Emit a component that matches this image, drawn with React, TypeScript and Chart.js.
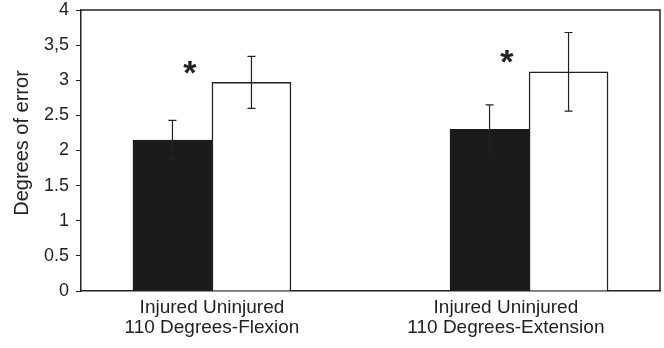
import React, { useEffect, useRef } from "react";
import { Chart, registerables } from "chart.js";

Chart.register(...registerables);

const categories = ["110 Degrees-Flexion", "110 Degrees-Extension"];
const seriesNames = ["Injured", "Uninjured"];
const barPositions = [0, 1];
const labelPositions = [0, 0.927];
const injured = [2.15, 2.3];
const uninjured = [2.97, 3.12];
const injuredErr = [0.28, 0.35];
const uninjuredErr = [0.37, 0.56];
const starX = [-0.07, 0.93];
const starY = [3.15, 3.3];
const yTickValues = [0, 0.5, 1, 1.5, 2, 2.5, 3, 3.5, 4];
const yTickLabels = ["0", "0.5", "1", "1.5", "2", "2.5", "3", "3,5", "4"];
const yTitle = "Degrees of error";

const FONT = "'Liberation Sans', Arial, sans-serif";
const INK = "#222";

const errorBarPlugin = {
  id: "errorBars",
  afterDatasetsDraw(chart: any) {
    const ctx = chart.ctx;
    const y = chart.scales.y;
    const errs = [injuredErr, uninjuredErr];
    const vals = [injured, uninjured];
    ctx.save();
    ctx.strokeStyle = INK;
    ctx.lineWidth = 1.2;
    chart.data.datasets.forEach((_d: any, i: number) => {
      const meta = chart.getDatasetMeta(i);
      meta.data.forEach((el: any, j: number) => {
        const v = vals[i][j];
        const e = errs[i][j];
        const top = y.getPixelForValue(v + e);
        const bot = y.getPixelForValue(v - e);
        const x = el.x;
        ctx.beginPath();
        ctx.moveTo(x, top);
        ctx.lineTo(x, bot);
        ctx.moveTo(x - 4, top);
        ctx.lineTo(x + 4, top);
        ctx.moveTo(x - 4, bot);
        ctx.lineTo(x + 4, bot);
        ctx.stroke();
      });
    });
    // asterisks
    ctx.fillStyle = INK;
    ctx.font = `bold 34px ${FONT}`;
    ctx.textAlign = "center";
    ctx.textBaseline = "alphabetic";
    starX.forEach((sx, k) => {
      const px = chart.scales.x.getPixelForValue(sx);
      const py = y.getPixelForValue(starY[k]);
      ctx.fillText("*", px, py + 14);
    });
    // frame (top & right)
    const a = chart.chartArea;
    ctx.strokeStyle = INK;
    ctx.lineWidth = 1.5;
    ctx.beginPath();
    ctx.moveTo(a.left, a.top);
    ctx.lineTo(a.right, a.top);
    ctx.lineTo(a.right, a.bottom);
    ctx.stroke();
    // y axis title
    ctx.fillStyle = INK;
    ctx.font = `20px ${FONT}`;
    ctx.textAlign = "center";
    ctx.textBaseline = "middle";
    ctx.translate(22, 143);
    ctx.rotate(-Math.PI / 2);
    ctx.fillText(yTitle, 0, 0);
    ctx.restore();
  },
};

export default function App() {
  const ref = useRef<HTMLCanvasElement | null>(null);
  useEffect(() => {
    if (!ref.current) return;
    const chart = new Chart(ref.current, {
      type: "bar",
      data: {
        datasets: [
          {
            label: seriesNames[0],
            data: barPositions.map((x, i) => ({ x, y: injured[i] })),
            backgroundColor: "#1b1b1b",
            borderColor: "#1b1b1b",
            borderWidth: 1,
            barThickness: 79,
          },
          {
            label: seriesNames[1],
            data: barPositions.map((x, i) => ({ x, y: uninjured[i] })),
            backgroundColor: "#ffffff",
            borderColor: INK,
            borderWidth: 1.5,
            barThickness: 79,
          },
        ],
      },
      options: {
        animation: false,
        responsive: true,
        maintainAspectRatio: false,
        layout: { padding: { top: 10, right: 4, left: 0, bottom: 0 } },
        plugins: {
          legend: { display: false },
          tooltip: { enabled: false },
        },
        scales: {
          x: {
            type: "linear",
            offset: false,
            min: -0.413,
            max: 1.413,
            grid: { display: false, drawTicks: false },
            border: { display: true, color: INK, width: 1.5 },
            afterBuildTicks: (scale: any) => {
              scale.ticks = labelPositions.map((v) => ({ value: v }));
            },
            afterFit: (scale: any) => {
              scale.height = 57;
              scale.paddingLeft = 0;
              scale.paddingRight = 0;
            },
            ticks: {
              autoSkip: false,
              maxRotation: 0,
              padding: 7,
              color: INK,
              font: { family: FONT, size: 19, lineHeight: 1.05 },
              callback: (_v: any, i: number) => [
                seriesNames.join(" "),
                categories[i],
              ],
            },
          },
          y: {
            min: 0,
            max: 4,
            grid: {
              display: true,
              drawOnChartArea: false,
              drawTicks: true,
              tickLength: 5,
              color: INK,
              lineWidth: 1,
            },
            border: { display: true, color: INK, width: 1.5 },
            afterBuildTicks: (scale: any) => {
              scale.ticks = yTickValues.map((v) => ({ value: v }));
            },
            afterFit: (scale: any) => {
              scale.width = 81;
              scale.paddingTop = 0;
              scale.paddingBottom = 0;
            },
            ticks: {
              padding: 7,
              color: INK,
              font: { family: FONT, size: 18 },
              callback: (_v: any, i: number) => yTickLabels[i],
            },
          },
        },
      },
      plugins: [errorBarPlugin],
    } as any);
    return () => chart.destroy();
  }, []);
  return (
    <div style={{ position: "fixed", left: 0, top: 0, width: 664, height: 348, background: "#fff" }}>
      <canvas ref={ref} />
    </div>
  );
}
